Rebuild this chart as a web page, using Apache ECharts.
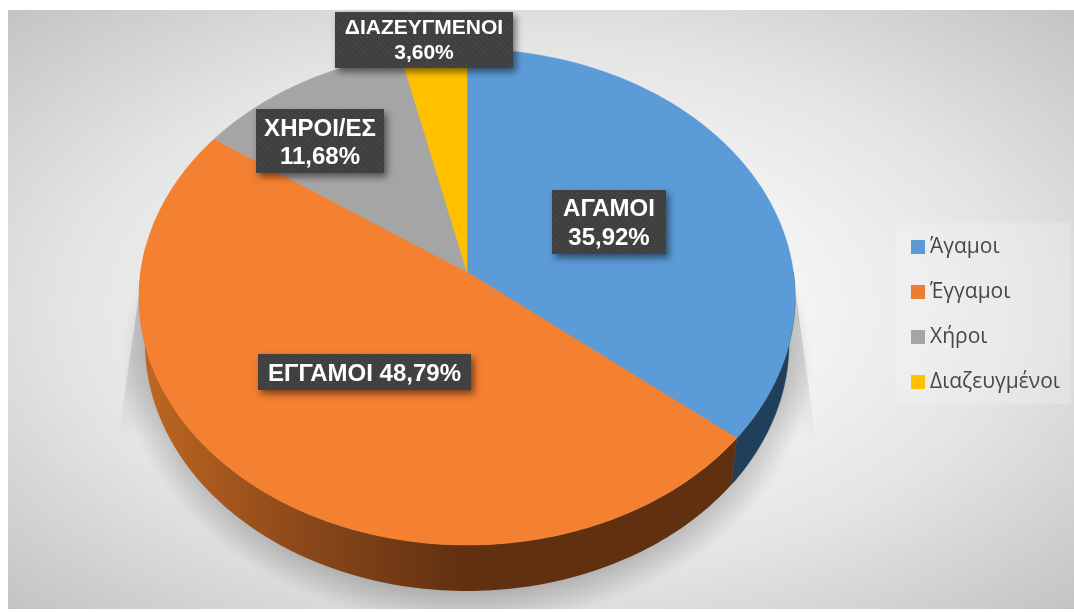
<!DOCTYPE html>
<html><head><meta charset="utf-8">
<style>html,body{margin:0;padding:0;background:#fff}#c{width:1074px;height:612px}</style>
<script src="https://cdn.jsdelivr.net/npm/echarts@6/dist/echarts.min.js"></script>
</head><body><div id="c"></div>
<script>
(function(){
const categories = ['Άγαμοι','Έγγαμοι','Χήροι','Διαζευγμένοι'];
const values = [35.92,48.79,11.68,3.60];
const labelNames = ['ΑΓΑΜΟΙ','ΕΓΓΑΜΟΙ','ΧΗΡΟΙ/ΕΣ','ΔΙΑΖΕΥΓΜΕΝΟΙ'];
const legendColors = ['#5B9BD5','#ED7D31','#A5A5A5','#FFC000'];
const topColors = ['#5B9BD7','#F48031','#A5A5A5','#FFC000'];

// Layout of the perspective disc
const P = {cx:467, cy:297, rx:328, ry:248, k:0.1008, depth:46, shrink:322/328};
const labelBoxes = [
  {x:552,y:190,w:114,h:64,inline:false,size:24,lh:29,dy:2},
  {x:258,y:354,w:213,h:36,inline:true,size:24,lh:29,dy:2},
  {x:256,y:109,w:128,h:64,inline:false,size:24,lh:28,dy:2},
  {x:335,y:12,w:178,h:56,inline:false,size:21,lh:25,dy:1}
];
const total = values.reduce((a,b)=>a+b,0);
const dark = (function(){
  const cv=document.createElement('canvas');cv.width=6;cv.height=6;
  const g=cv.getContext('2d');g.fillStyle='#404040';g.fillRect(0,0,6,6);
  g.fillStyle='#515151';g.fillRect(1,1,1,1);g.fillRect(4,4,1,1);
  return cv;
})();
function project(deg,r){
  const a=deg*Math.PI/180,u=r*Math.sin(a),v=r*Math.cos(a),d=1+P.k*v;
  return [P.rx*Math.sqrt(1-P.k*P.k)*u/d, P.ry*(v+P.k)/d];
}
function rimTop(deg){const p=project(deg,1);return [P.cx+p[0],P.cy-p[1]];}
function rimBottom(deg){const p=project(deg,1);return [P.cx+p[0]*P.shrink,P.cy-p[1]+P.depth];}
function fmt(v){return v.toFixed(2).replace('.',',')+'%';}
function startOf(i){let s=0;for(let j=0;j<i;j++)s+=values[j];return s/total*360;}
const orangeSide={type:'linear',x:150,y:0,x2:462,y2:0,global:true,colorStops:[
  {offset:0,color:'#BC6520'},{offset:.5,color:'#8A481A'},{offset:1,color:'#613010'}]};
const sideFill=['#203F58',orangeSide,'#6b6b6b','#8a6a00'];

function makeRender(i){
  return function(params,api){
    const v=api.value(0);
    const a0=startOf(i), a1=a0+v/total*360;
    const kids=[];
    const s0=Math.max(a0,90), s1=Math.min(a1,276);
    if(s1>s0){
      const pts=[];
      for(let d=s0;d<s1;d+=1)pts.push(rimTop(d));
      pts.push(rimTop(s1));
      for(let d=s1;d>s0;d-=1)pts.push(rimBottom(d));
      pts.push(rimBottom(s0));
      kids.push({type:'polygon',shape:{points:pts},style:{fill:sideFill[i],stroke:i===0?sideFill[i]:null,lineWidth:.5}});
    }
    const pts=[[P.cx,P.cy-project(0,0)[1]]];
    for(let d=a0;d<a1;d+=1)pts.push(rimTop(d));
    pts.push(rimTop(a1));
    kids.push({type:'polygon',shape:{points:pts},style:{fill:topColors[i],stroke:topColors[i],lineWidth:.5}});
    const b=labelBoxes[i];
    kids.push({type:'rect',shape:{x:b.x,y:b.y,width:b.w,height:b.h},
      style:{fill:{image:dark,repeat:'repeat'},shadowBlur:7,shadowOffsetX:3,shadowOffsetY:4,shadowColor:'rgba(0,0,0,.5)'}});
    kids.push({type:'text',style:{
      x:b.x+b.w/2,y:b.y+b.h/2+b.dy,align:'center',verticalAlign:'middle',
      text:labelNames[i]+(b.inline?' ':'\n')+fmt(v),
      fill:'#fff',font:'bold '+b.size+'px "Liberation Sans"',lineHeight:b.lh}});
    return {type:'group',children:kids};
  };
}
const series=categories.map((name,i)=>({
  type:'custom',name,coordinateSystem:'none',clip:false,silent:true,
  itemStyle:{color:legendColors[i]},
  data:[values[i]],encode:{value:0},renderItem:makeRender(i)
}));
const W=1066,H=599;
const chart=echarts.init(document.getElementById('c'),null,{renderer:'canvas'});
chart.setOption({
  animation:false,
  backgroundColor:'#fff',
  legend:{
    data:categories,orient:'vertical',left:897,top:223,
    padding:[13,11,11,14],itemWidth:14,itemHeight:14,itemGap:23,
    icon:'rect',backgroundColor:'rgba(255,255,255,.2)',
    textStyle:{color:'#474747',fontSize:21,fontFamily:'"Open Sans"',lineHeight:22}
  },
  graphic:[
    {type:'rect',x:8,y:10,scaleX:W/H,scaleY:1,shape:{x:0,y:0,width:H,height:H},
     style:{fill:{type:'radial',x:.5,y:.5,r:.72,colorStops:[
       {offset:0,color:'#ffffff'},{offset:.3,color:'#f6f6f6'},{offset:.62,color:'#e4e4e4'},{offset:1,color:'#c2c2c2'}]}}},
    {type:'polygon',shape:{points:[[139,295],[118,440],[816,440],[796,295]]},
     style:{fill:{type:'linear',x:0,y:0,x2:0,y2:1,colorStops:[
       {offset:0,color:'rgba(0,0,0,.17)'},{offset:.6,color:'rgba(0,0,0,.09)'},{offset:1,color:'rgba(0,0,0,0)'}]}}},
    {type:'circle',x:467,y:360,scaleX:345/300,scaleY:265/300,shape:{cx:0,cy:0,r:300},
     style:{fill:{type:'radial',x:.5,y:.5,r:.5,colorStops:[
       {offset:0,color:'rgba(0,0,0,.24)'},{offset:.86,color:'rgba(0,0,0,.24)'},
       {offset:.93,color:'rgba(0,0,0,.12)'},{offset:1,color:'rgba(0,0,0,0)'}]}}},
    {type:'rect',shape:{x:0,y:609,width:1074,height:3},style:{fill:'#fff'}}
  ],
  series
});
})();
</script></body></html>
